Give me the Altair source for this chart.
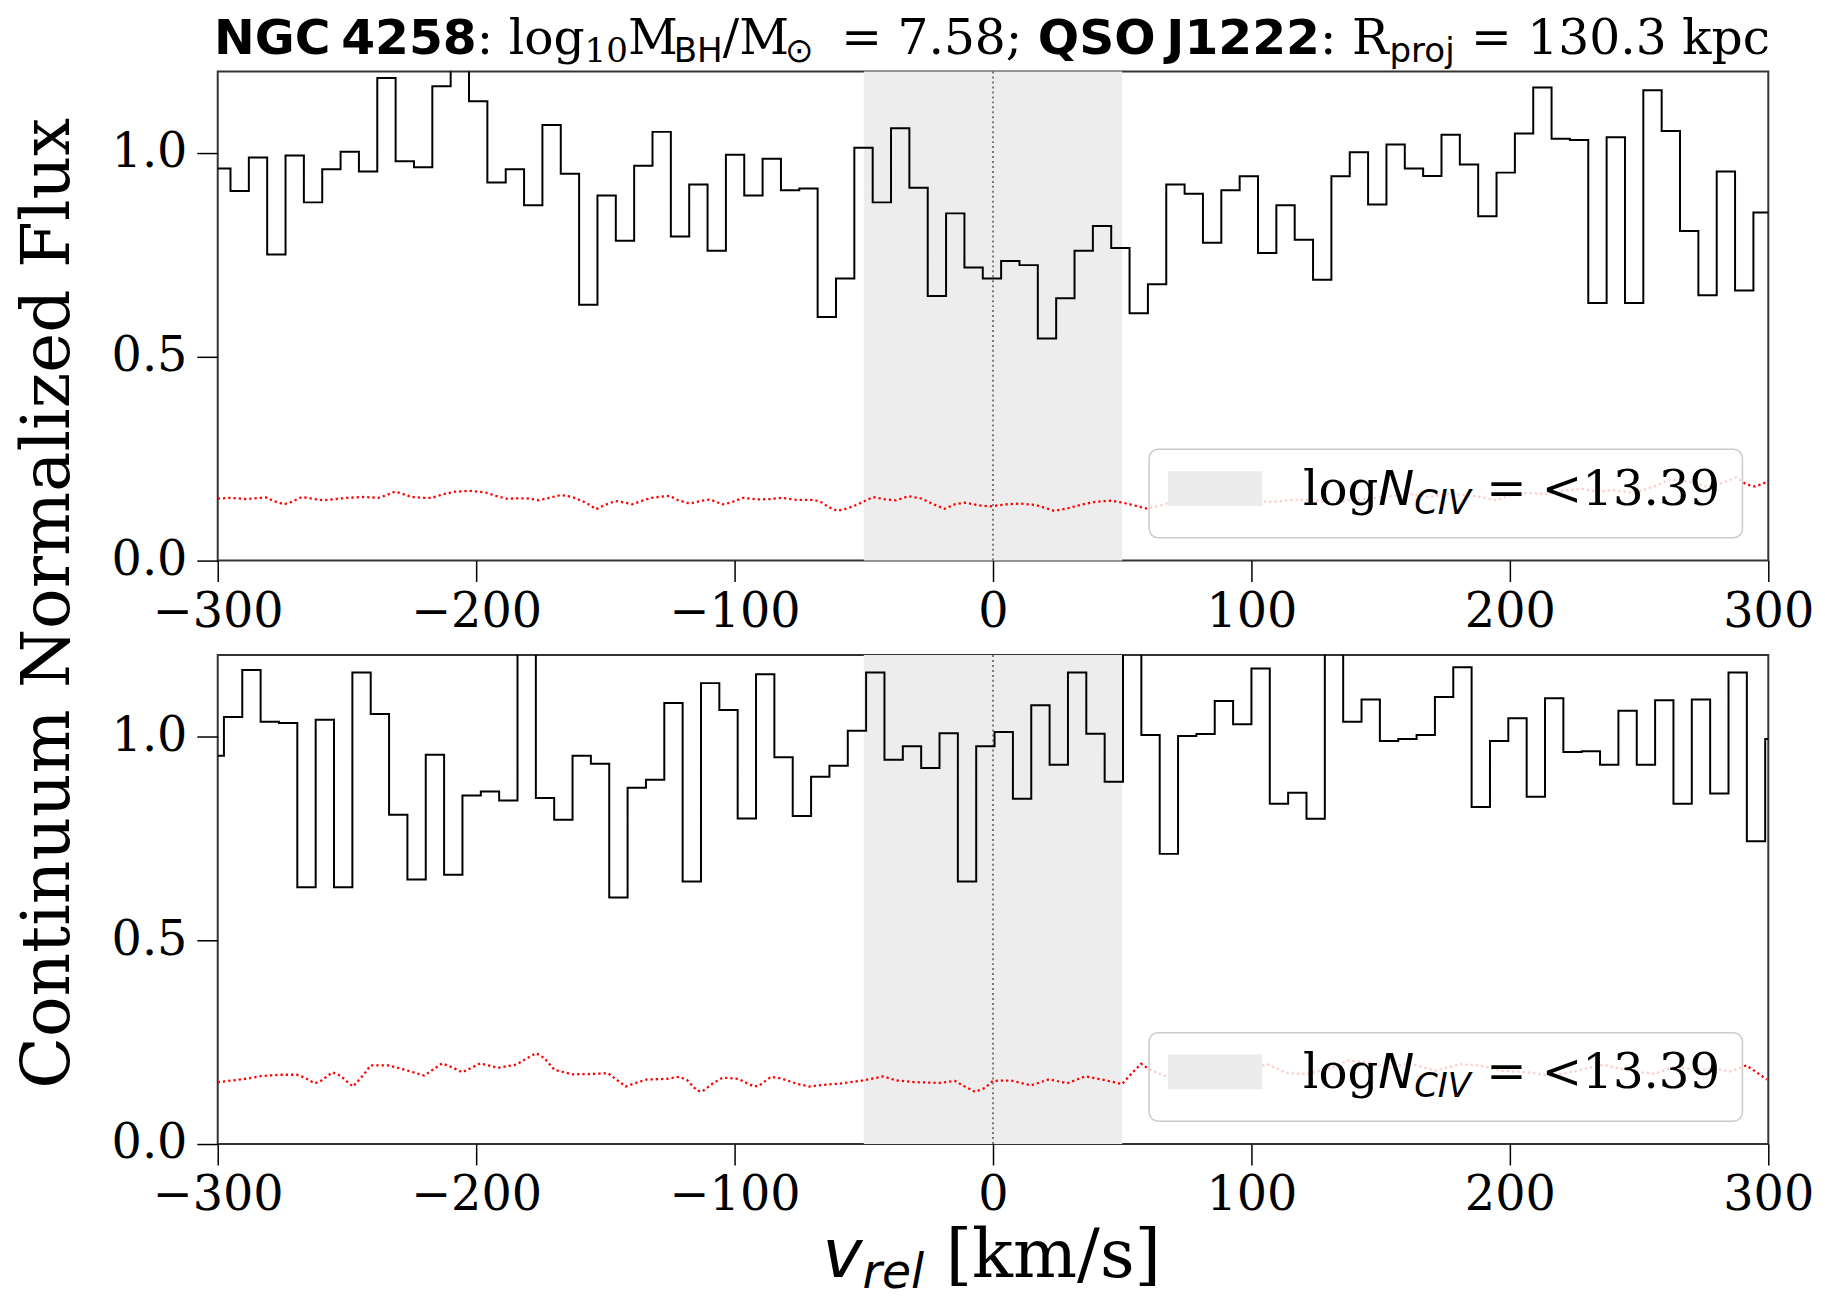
import altair as alt
import numpy as np
import pandas as pd

# ---------------- data ----------------
bin_width = 7.1            # km/s, width of one spectral bin
top_edge_start = -302.16   # left edge of the first bin (upper panel)
bottom_edge_start = -304.7 # left edge of the first bin (lower panel)

top_flux = [0.962, 0.907, 0.989, 0.751, 0.994, 0.879, 0.960, 1.003, 0.955, 1.184,
            0.980, 0.965, 1.164, 1.260, 1.127, 0.928, 0.960, 0.872, 1.069, 0.949,
            0.628, 0.896, 0.785, 0.969, 1.052, 0.795, 0.923, 0.760, 0.996, 0.896,
            0.986, 0.909, 0.913, 0.598, 0.692, 1.013, 0.879, 1.061, 0.915, 0.649,
            0.852, 0.719, 0.692, 0.735, 0.725, 0.545, 0.644, 0.760, 0.821, 0.767,
            0.607, 0.678, 0.923, 0.900, 0.780, 0.909, 0.943, 0.755, 0.872, 0.787,
            0.689, 0.943, 1.002, 0.874, 1.021, 0.962, 0.944, 1.045, 0.972, 0.845,
            0.952, 1.048, 1.161, 1.035, 1.032, 0.632, 1.039, 0.632, 1.154, 1.054,
            0.809, 0.651, 0.955, 0.663, 0.854]

bottom_flux = [0.953, 1.048, 1.163, 1.036, 1.033, 0.630, 1.041, 0.630, 1.157, 1.055,
               0.808, 0.649, 0.955, 0.661, 0.855, 0.865, 0.843, 1.280, 0.849, 0.796,
               0.953, 0.933, 0.605, 0.874, 0.894, 1.082, 0.644, 1.131, 1.065, 0.799,
               1.153, 0.949, 0.805, 0.901, 0.928, 1.014, 1.157, 0.943, 0.976, 0.923,
               1.008, 0.644, 0.976, 1.011, 0.847, 1.077, 0.931, 1.157, 1.007, 0.889,
               1.300, 1.004, 0.712, 1.001, 1.006, 1.087, 1.030, 1.167, 0.835, 0.862,
               0.798, 1.280, 1.036, 1.091, 0.989, 0.994, 1.004, 1.097, 1.170, 0.827,
               0.989, 1.045, 0.852, 1.094, 0.962, 0.964, 0.931, 1.063, 0.931, 1.089,
               0.835, 1.091, 0.860, 1.157, 0.743, 0.994]

top_err_v = [-300.0, -295.1, -289.1, -283.2, -281.3, -278.3, -274.3, -271.4, -267.4, -263.5,
             -259.5, -254.6, -249.7, -243.8, -237.8, -234.9, -231.5, -229.0, -225.0, -220.1,
             -217.1, -213.2, -208.2, -202.3, -196.4, -192.4, -188.5, -180.6, -175.7, -171.7,
             -167.2, -162.8, -158.9, -155.9, -153.6, -150.0, -146.1, -142.1, -139.6, -136.2,
             -132.2, -125.3, -121.8, -117.4, -112.5, -109.6, -104.6, -101.7, -96.7, -90.8,
             -85.9, -81.9, -76.0, -69.1, -66.1, -63.8, -60.2, -56.3, -52.3, -46.4,
             -41.5, -37.5, -32.6, -27.6, -23.7, -18.8, -14.8, -10.9, -5.9, -1.0,
             4.9, 10.9, 16.8, 20.8, 23.7, 28.7, 34.6, 39.5, 45.5, 50.4,
             54.3, 59.3, 64.2, 70.2, 74.1, 82.0, 87.9, 93.9, 101.8, 107.7,
             117.6, 125.5, 131.4, 137.4, 145.3, 153.2, 161.1, 169.0, 176.9, 186.8,
             194.7, 200.6, 206.5, 214.4, 222.3, 228.3, 234.2, 240.1, 248.0, 255.9,
             261.9, 267.8, 275.7, 281.6, 287.5, 291.5, 294.5, 297.4, 300.0]
top_err = [0.152, 0.154, 0.151, 0.154, 0.155, 0.146, 0.138, 0.144, 0.156, 0.152,
           0.148, 0.151, 0.154, 0.156, 0.154, 0.160, 0.169, 0.165, 0.156, 0.154,
           0.154, 0.162, 0.169, 0.171, 0.167, 0.159, 0.152, 0.153, 0.148, 0.154,
           0.161, 0.156, 0.146, 0.136, 0.126, 0.137, 0.146, 0.142, 0.138, 0.146,
           0.154, 0.159, 0.148, 0.140, 0.147, 0.150, 0.138, 0.142, 0.154, 0.150,
           0.151, 0.154, 0.149, 0.149, 0.142, 0.132, 0.122, 0.128, 0.138, 0.156,
           0.150, 0.148, 0.158, 0.152, 0.140, 0.127, 0.138, 0.142, 0.136, 0.133,
           0.138, 0.140, 0.136, 0.128, 0.122, 0.128, 0.138, 0.144, 0.147, 0.142,
           0.136, 0.128, 0.134, 0.146, 0.152, 0.150, 0.143, 0.151, 0.146, 0.144,
           0.150, 0.147, 0.140, 0.148, 0.152, 0.158, 0.163, 0.156, 0.164, 0.158,
           0.148, 0.161, 0.166, 0.163, 0.173, 0.176, 0.169, 0.173, 0.166, 0.182,
           0.199, 0.196, 0.182, 0.189, 0.204, 0.187, 0.182, 0.187, 0.195]

bottom_err_v = [-300.0, -294.1, -288.2, -283.2, -275.3, -269.4, -266.4, -262.5, -260.5, -255.6,
                -252.6, -247.7, -243.8, -240.8, -233.9, -228.0, -220.1, -213.2, -209.2, -205.3,
                -198.4, -191.5, -184.5, -179.6, -176.7, -173.7, -169.7, -162.8, -154.9, -149.0,
                -146.1, -142.1, -139.2, -134.2, -126.3, -121.4, -118.4, -114.5, -112.5, -108.6,
                -104.6, -98.7, -92.8, -90.8, -85.9, -81.9, -76.0, -71.1, -66.1, -58.2,
                -50.3, -42.5, -37.5, -30.6, -20.7, -14.8, -10.9, -6.9, -3.0, 0.0,
                6.9, 14.8, 21.7, 28.7, 35.6, 42.5, 50.0, 52.4, 57.3, 60.3,
                66.2, 71.1, 78.1, 87.9, 97.8, 106.7, 113.6, 121.5, 129.4, 137.4,
                145.3, 153.2, 161.1, 171.0, 180.8, 188.7, 196.6, 206.5, 216.4, 226.3,
                236.2, 246.0, 255.9, 263.8, 271.7, 279.6, 285.6, 291.5, 295.5, 299.4]
bottom_err = [0.152, 0.156, 0.161, 0.167, 0.170, 0.170, 0.163, 0.149, 0.153, 0.176,
              0.168, 0.141, 0.168, 0.193, 0.193, 0.183, 0.168, 0.198, 0.188, 0.176,
              0.198, 0.187, 0.195, 0.213, 0.223, 0.211, 0.182, 0.171, 0.172, 0.174,
              0.160, 0.141, 0.148, 0.158, 0.160, 0.165, 0.157, 0.131, 0.129, 0.148,
              0.163, 0.160, 0.142, 0.142, 0.165, 0.161, 0.148, 0.141, 0.145, 0.149,
              0.156, 0.166, 0.156, 0.152, 0.150, 0.155, 0.141, 0.128, 0.138, 0.155,
              0.156, 0.144, 0.159, 0.149, 0.166, 0.158, 0.147, 0.165, 0.197, 0.184,
              0.168, 0.162, 0.180, 0.182, 0.188, 0.195, 0.174, 0.172, 0.184, 0.205,
              0.200, 0.187, 0.198, 0.180, 0.196, 0.192, 0.180, 0.176, 0.168, 0.180,
              0.195, 0.180, 0.172, 0.190, 0.182, 0.184, 0.178, 0.193, 0.176, 0.158]

shade_range = [-50, 50]
x_domain = [-300, 300]
y_domain = [0.0, 1.2]
x_ticks = [-300, -200, -100, 0, 100, 200, 300]
y_ticks = [0.0, 0.5, 1.0]

# ---------------- text pieces ----------------
SERIF = "DejaVu Serif"
SANS = "DejaVu Sans"
# (text, font, weight, style, relative size, baseline shift)
title_segments = [
    ("NGC", SANS, "bold", "normal", 1.0, 0), ("\u2009", None, None, None, 0.22, 0),
    ("4258", SANS, "bold", "normal", 1.0, 0),
    (": log", SERIF, "normal", "normal", 1.0, 0),
    ("10", SERIF, "normal", "normal", 0.7, 8),
    ("M", SERIF, "normal", "normal", 1.0, 0),
    ("BH", SANS, "normal", "normal", 0.7, 8),
    ("/M", SERIF, "normal", "normal", 1.0, 0),
    ("\u2299", SANS, "normal", "normal", 0.7, 8),
    ("\u2009", None, None, None, 0.25, 0),
    (" = 7.58; ", SERIF, "normal", "normal", 1.0, 0),
    ("QSO", SANS, "bold", "normal", 1.0, 0), ("\u2009", None, None, None, 0.22, 0),
    ("J1222", SANS, "bold", "normal", 1.0, 0),
    (": R", SERIF, "normal", "normal", 1.0, 0),
    ("proj", SANS, "normal", "normal", 0.7, 8),
    (" = 130.3 kpc", SERIF, "normal", "normal", 1.0, 0),
]
legend_segments = [
    ("log", SERIF, "normal", "normal", 1.0, 0),
    ("N", SANS, "normal", "italic", 1.0, 0),
    ("CIV", SANS, "normal", "italic", 0.7, 9),
    (" = <13.39", SERIF, "normal", "normal", 1.0, 0),
]
xlabel_segments = [
    ("v", SANS, "normal", "italic", 1.0, 0),
    ("rel", SANS, "normal", "italic", 0.7, 11),
    (" [km/s]", SERIF, "normal", "normal", 1.0, 0),
]
ylabel_text = "Continuum Normalized Flux"

# ---------------- layout helpers (approximate DejaVu advance widths, em) ----------------
W_SERIF = {' ': .318, ':': .337, ';': .337, 'l': .320, 'o': .602, 'g': .635, 'M': .94,
           '/': .337, '=': .838, '.': .318, 'R': .770, 'k': .640, 'p': .645, 'c': .560,
           '[': .390, ']': .390, 'm': .953, 's': .512, '<': .838}
W_SANS = {' ': .318, 'B': .686, 'H': .752, 'p': .635, 'r': .411, 'o': .612, 'j': .278,
          '\u2299': .838, 'v': .592, 'e': .615, 'l': .278, 'N': .748, 'C': .698,
          'I': .295, 'V': .684}
W_SANSB = {' ': .348, 'N': .837, 'G': .821, 'C': .734, 'Q': .850, 'S': .720, 'O': .850,
           'J': .372}


def char_w(c, font, weight):
    if c.isdigit():
        return .696 if weight == "bold" else .636
    if font == SERIF:
        return W_SERIF.get(c, .6)
    if weight == "bold":
        return W_SANSB.get(c, .7)
    return W_SANS.get(c, .6)


def seg_width(seg, size):
    text, font, weight, style, rel, dy = seg
    if font is None:
        return rel * size
    return sum(char_w(c, font, weight) for c in text) * size * rel


def text_layers(segments, size, y, x_start=None, x_center=None):
    total = sum(seg_width(s, size) for s in segments)
    x = x_start if x_start is not None else x_center - total / 2
    out = []
    for seg in segments:
        text, font, weight, style, rel, dy = seg
        w = seg_width(seg, size)
        if font is not None:
            lead = len(text) - len(text.lstrip(' '))
            sw = char_w(' ', font, weight) * size * rel
            out.append(
                alt.Chart(pd.DataFrame({"k": [0]})).mark_text(
                    text=text.strip(), font=font, fontSize=size * rel,
                    fontWeight=weight, fontStyle=style, align="left",
                    baseline="alphabetic", color="black"
                ).encode(x=alt.value(x + lead * sw), y=alt.value(y + dy))
            )
        x += w
    return out


# ---------------- chart ----------------
W, H = 1560, 492

x_axis = alt.Axis(values=x_ticks, format="d", title=None, grid=False, domain=False,
                  tickSize=21, tickWidth=1.5, tickColor="black", labelColor="black",
                  labelFont=SERIF, labelFontSize=48, labelPadding=7,
                  labelFlush=False, labelOverlap=False)
y_axis = alt.Axis(values=y_ticks, format=".1f", title=None, grid=False, domain=False,
                  tickSize=21, tickWidth=1.5, tickColor="black", labelColor="black",
                  labelFont=SERIF, labelFontSize=48, labelPadding=10,
                  labelFlush=False, labelOverlap=False)
x_scale = alt.Scale(domain=x_domain, nice=False, zero=False)
y_scale = alt.Scale(domain=y_domain, nice=False, zero=False)


def panel(flux, edge_start, err_v, err, extra):
    edges = edge_start + bin_width * np.arange(len(flux) + 1)
    step_df = pd.DataFrame({"v": edges, "f": list(flux) + [flux[-1]]})
    err_df = pd.DataFrame({"v": err_v, "f": err})
    shade_df = pd.DataFrame({"lo": [shade_range[0]], "hi": [shade_range[1]]})
    zero_df = pd.DataFrame({"z": [0]})

    shade = alt.Chart(shade_df).mark_rect(color="#ededed").encode(
        x=alt.X("lo:Q", scale=x_scale, axis=x_axis), x2="hi:Q",
        y=alt.value(0), y2=alt.value(H))
    zero = alt.Chart(zero_df).mark_rule(color="#555555", strokeWidth=1.5,
                                        strokeDash=[2, 3]).encode(
        x=alt.X("z:Q", scale=x_scale, axis=x_axis))
    step = alt.Chart(step_df).mark_line(interpolate="step-after", color="black",
                                        strokeWidth=2, clip=True).encode(
        x=alt.X("v:Q", scale=x_scale, axis=x_axis),
        y=alt.Y("f:Q", scale=y_scale, axis=y_axis))
    errl = alt.Chart(err_df).mark_line(color="red", strokeWidth=2.3, strokeDash=[2.3, 3],
                                       clip=True).encode(
        x=alt.X("v:Q", scale=x_scale, axis=x_axis),
        y=alt.Y("f:Q", scale=y_scale, axis=y_axis))
    leg_box = alt.Chart(pd.DataFrame({"k": [0]})).mark_rect(
        fill="white", fillOpacity=0.8, stroke="#cccccc", strokeWidth=1.5,
        cornerRadius=9).encode(x=alt.value(937), x2=alt.value(1534),
                               y=alt.value(380), y2=alt.value(469))
    leg_patch = alt.Chart(pd.DataFrame({"k": [0]})).mark_rect(
        fill="#ececec").encode(x=alt.value(956), x2=alt.value(1051),
                               y=alt.value(402), y2=alt.value(437))
    leg_text = text_layers(legend_segments, 48.5, 436, x_start=1092)
    return alt.layer(shade, zero, step, errl, leg_box, leg_patch, *leg_text, *extra).properties(
        width=W, height=H)


title_layers = text_layers(title_segments, 49, -18, x_center=W / 2)
ylabel_layer = alt.Chart(pd.DataFrame({"k": [0]})).mark_text(
    text=ylabel_text, font=SERIF, fontSize=68, angle=270, align="center",
    baseline="alphabetic", color="black").encode(x=alt.value(-150), y=alt.value(H + 43))
xlabel_layers = text_layers(xlabel_segments, 68, 626, x_center=W / 2)

top = panel(top_flux, top_edge_start, top_err_v, top_err, title_layers + [ylabel_layer])
bottom = panel(bottom_flux, bottom_edge_start, bottom_err_v, bottom_err, xlabel_layers)

chart = alt.vconcat(top, bottom, spacing=95, bounds="flush").properties(
    padding={"left": 5, "top": 2, "right": 2, "bottom": 2},
    background="white"
).configure_view(stroke="#333333", strokeWidth=2)

chart.save("out.html", embed_options={"renderer": "svg", "actions": False})
